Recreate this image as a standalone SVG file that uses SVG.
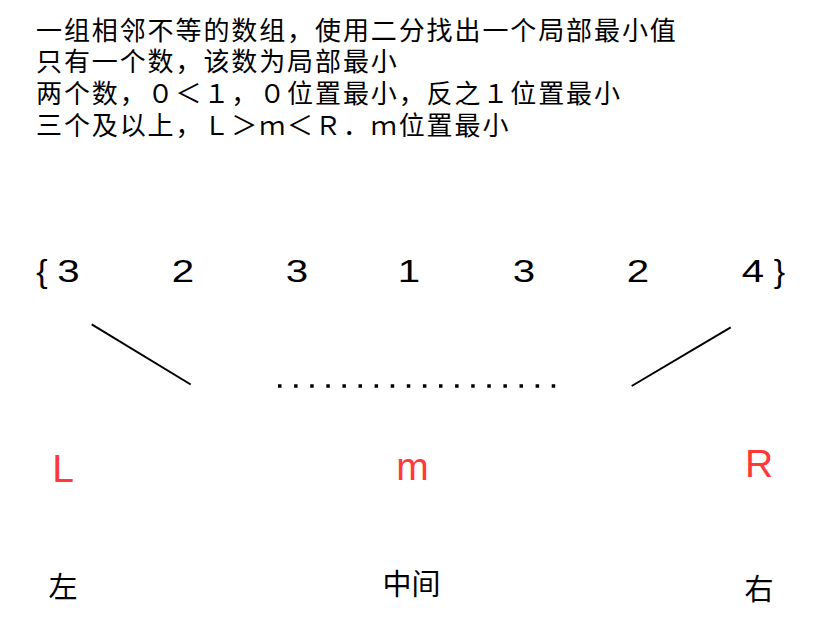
<svg xmlns="http://www.w3.org/2000/svg" width="834" height="634" viewBox="0 0 834 634">
<style>
  .cjk { font-family: "Noto Sans CJK SC", "Liberation Sans", sans-serif; fill: #000; }
  .head { font-size: 26px; letter-spacing: 1.9px; }
  .num { font-family: "Liberation Sans", "Noto Sans CJK SC", sans-serif; font-size: 31px; fill: #000; text-anchor: middle; }
  .red { font-family: "Liberation Sans", sans-serif; font-size: 39px; fill: #ff3838; text-anchor: middle; }
  .lbl { font-size: 29px; text-anchor: middle; }
  .conn { stroke: #000; stroke-width: 2; fill: none; }
</style>
<rect width="834" height="634" fill="#fff"/>
<g id="notes">
  <text class="cjk head" x="36" y="40">一组相邻不等的数组，使用二分找出一个局部最小值</text>
  <text class="cjk head" x="36" y="71">只有一个数，该数为局部最小</text>
  <text class="cjk head" x="36" y="103">两个数，０＜１，０位置最小，反之１位置最小</text>
  <text class="cjk head" x="36" y="135">三个及以上，Ｌ＞ｍ＜Ｒ．ｍ位置最小</text>
</g>
<g id="array">
  <text class="num" transform="translate(42,282) scale(1.1,1)">{</text>
  <text class="num" transform="translate(68.5,282) scale(1.3,1)">3</text>
  <text class="num" transform="translate(183,282) scale(1.3,1)">2</text>
  <text class="num" transform="translate(297,282) scale(1.3,1)">3</text>
  <text class="num" transform="translate(409,282) scale(1.3,1)">1</text>
  <text class="num" transform="translate(524,282) scale(1.3,1)">3</text>
  <text class="num" transform="translate(638,282) scale(1.3,1)">2</text>
  <text class="num" transform="translate(753,282) scale(1.3,1)">4</text>
  <text class="num" transform="translate(779.5,282) scale(1.1,1)">}</text>
</g>
<g id="connectors">
  <line class="conn" x1="91.7" y1="324.3" x2="190.7" y2="384.5"/>
  <line class="conn" x1="730.7" y1="327.3" x2="631.7" y2="386"/>
  <line x1="278" y1="386" x2="556" y2="386" stroke="#000" stroke-width="3.5" stroke-dasharray="3.5 12.6"/>
</g>
<g id="node-L">
  <text class="red" x="63" y="482">L</text>
  <text class="cjk lbl" x="63" y="598">左</text>
</g>
<g id="node-m">
  <text class="red" x="412.5" y="480">m</text>
  <text class="cjk lbl" x="411.5" y="595">中间</text>
</g>
<g id="node-R">
  <text class="red" x="759" y="477">R</text>
  <text class="cjk lbl" x="759" y="600">右</text>
</g>
</svg>
